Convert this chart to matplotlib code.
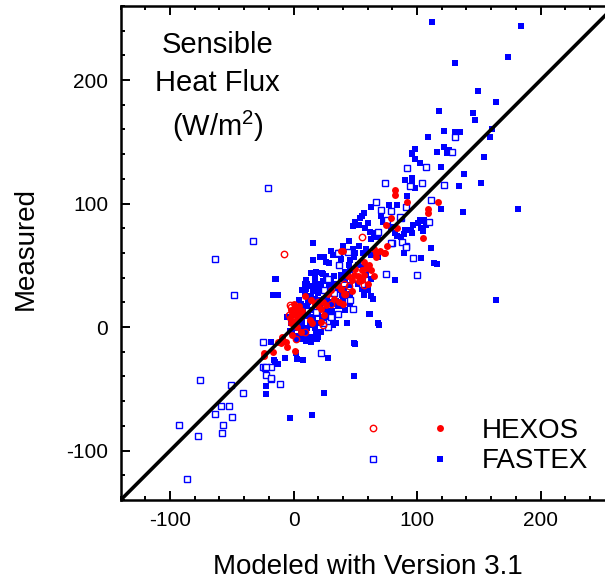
import numpy as np
import matplotlib
matplotlib.use('Agg')
import matplotlib.pyplot as plt
from matplotlib.ticker import MultipleLocator
from matplotlib.legend_handler import HandlerTuple

plt.rcParams['font.family'] = ['Liberation Sans', 'DejaVu Sans']
plt.rcParams['axes.unicode_minus'] = False
plt.rcParams['mathtext.fontset'] = 'custom'
plt.rcParams['mathtext.rm'] = 'Liberation Sans'

# (modeled, measured) pairs, W/m2
fastex_filled = np.array([
    (112, 247), (184, 244), (131, 214), (174, 219), (149, 191), (164, 182), (118, 175), (145, 173),
    (147, 168), (122, 159), (131, 158), (135, 158), (109, 154), (161, 160), (159, 154), (122, 146),
    (126, 143), (124, 141), (116, 142), (98, 144), (96, 141), (96, 140), (98, 136), (102, 133),
    (154, 138), (119, 130), (138, 124), (152, 117), (134, 114), (90, 119), (96, 121), (96, 116),
    (98, 113), (92, 106), (84, 99), (119, 96), (137, 93), (182, 96), (164, 22),
    (111, 64), (89, 60), (103, 56), (114, 52), (116, 51), (82, 38), (66, 76), (68, 73), (65, 73),
    (63, 71), (63, 97), (77, 99), (57, 92), (55, 90), (50, 85), (53, 83), (60, 84), (71, 90),
    (72, 85), (76, 84), (90, 79), (95, 79), (97, 83), (102, 86), (96, 76), (102, 87), (106, 87),
    (101, 84), (107, 83), (103, 80), (105, 78), (89, 75), (79, 81), (82, 76), (84, 74), (87, 73),
    (32, 58), (45, 70), (44, 61), (48, 63), (50, 60), (59, 63), (16, 68), (30, 62), (34, 58),
    (21, 57), (25, 57), (26, 53), (29, 52), (16, 54), (63, 58), (68, 57), (46, 54), (49, 57),
    (57, 49), (61, 46), (59, 42), (63, 39), (52, 50), (45, 50), (46, 46), (42, 45), (64, 23),
    (62, 11), (69, 2), (68, 3), (61, 11), (54, 88), (58, 80), (48, 82), (62, 77), (40, 66),
    (38, 55), (53, 66), (56, 60),
    (-15, 39), (-17, 26), (-13, 26), (-14, 39),
    (14, 44), (17, 41), (23, 44), (9, 35), (13, 33), (7, 30), (17, 34), (22, 35), (28, 38),
    (33, 41), (38, 42), (44, 41), (28, 30), (32, 27), (36, 30), (41, 31), (46, 34), (52, 35),
    (56, 38), (55, 31), (60, 30), (57, 26), (14, 25), (18, 21), (21, 17), (25, 22), (30, 19),
    (34, 21), (38, 17), (42, 14), (46, 19), (5, 6), (7, 2), (11, -1), (15, 2), (19, 3), (23, 6),
    (28, 8), (32, 6), (9, -5), (14, -8), (19, -8), (3, -10), (6, -1), (18, -4),
    (10, 38), (11, 35), (9, 34), (10, 31), (14, 33), (18, 45), (24, 43), (26, 41), (30, 39),
    (17, 38), (21, 35), (24, 37), (29, 34), (33, 35), (36, 33), (38, 39), (42, 38), (9, 27),
    (13, 25), (17, 23), (21, 22), (25, 23), (29, 20), (6, 19), (11, 17), (15, 14), (20, 11),
    (23, 8), (28, 10), (32, 19), (36, 17), (40, 22), (44, 25), (46, 27), (7, 6), (13, 3),
    (17, -1), (6, -2), (5, -9), (10, -10), (14, -12), (20, -8), (-2, 3), (-1, -4), (1, 10),
    (-5, 8), (32, 2), (34, 3), (43, 3), (63, 25),
    (4, 22), (8, 15), (12, 9), (16, 8), (20, 28), (24, 30), (27, 25), (31, 13), (35, 10),
    (39, 26), (3, 2), (0, -1), (-3, -3), (8, 11), (12, 20), (16, 29), (20, 31), (26, 14),
    (-18, -12), (2, -21), (-7, -25), (3, -26), (8, -27), (-16, -27), (-13, -30), (28, -25),
    (50, -14), (49, -40), (49, -13), (22, -4), (17, 0), (6, -9), (10, -11), (14, -11),
    (-22, -48), (-22, -54), (-3, -74), (15, -71), (25, -53), (3, -7), (6, -10), (11, -10),
    (17, -8), (19, -10), (-15, -28),
])

fastex_open = np.array([
    (-25, -12), (22, -21), (36, 11), (48, 15), (28, 0), (-25, -32), (-23, -33), (-18, -32),
    (-18, -42), (-21, 113), (-33, 70), (-64, 55), (-48, 26), (-76, -43), (-51, -47), (-41, -53),
    (-22, -32), (-22, -39), (-18, -41), (-11, -46), (-59, -64), (-52, -64), (-64, -70),
    (-50, -73), (-57, -79), (-93, -79), (-77, -88), (-58, -86), (-86, -123),
    (131, 154), (128, 142), (92, 129), (107, 130), (122, 115), (104, 117), (94, 114), (111, 103),
    (91, 97), (79, 94), (110, 85), (87, 88), (91, 66), (97, 56), (100, 42), (71, 95), (86, 89),
    (80, 68), (88, 69), (91, 65), (37, 60), (75, 43), (74, 117), (67, 101), (76, 87), (68, 77),
    (79, 68), (44, 61), (36, 60), (55, 35), (25, 30), (28, 39), (46, 22), (37, 50), (30, 8),
    (24, 3), (33, 28), (18, 12),
])

hexos_filled = np.array([
    (82, 111), (82, 107), (117, 101), (109, 96), (109, 92), (92, 101), (105, 72), (79, 88),
    (84, 80), (75, 83), (74, 60), (76, 66), (40, 62), (38, 62), (65, 63), (67, 60), (73, 60),
    (67, 57), (61, 50), (65, 41), (59, 48), (63, 46), (53, 37), (44, 41), (47, 38), (49, 42),
    (38, 31), (41, 27), (47, 29), (28, 27), (33, 23), (37, 20), (17, 19), (20, 17), (22, 15),
    (1, 16), (3, 12), (-1, 11), (2, 10), (1, 5), (-2, 3), (3, 0), (6, -4), (13, 6), (15, 3),
    (9, 25), (14, 22), (-9, -9), (-6, -12), (-5, -16), (1, -19), (24, 20), (26, 18), (55, 46),
    (57, 53), (40, 19), (-24, -23), (-13, -12), (-24, -21), (-10, -13), (-1, -6), (-9, -8),
    (-17, -20), (52, 41), (55, 38), (57, 42), (60, 35), (22, 4), (25, 10), (-2, 14), (5, 8),
    (7, 13), (0, 19), (4, 17), (-3, 7), (30, 30), (35, 34), (50, 47), (70, 62),
])

hexos_open = np.array([
    (-8, 59), (55, 73), (-1, 8), (1, 14), (3, 15), (-2, 16), (41, 35), (45, 33), (57, 34),
    (30, 19), (20, 20), (42, 27), (9, -4), (2, -10), (24, 2), (-4, 10), (6, 9), (0, 12),
    (-3, 18),
])

one_to_one = [-140, 260]

fig = plt.figure(figsize=(6.05, 5.82), dpi=100)
ax = fig.add_axes([0.1995, 0.1409, 0.8165, 0.8488])

blue = '#0000ff'
red = '#ff0000'

f1, = ax.plot(fastex_filled[:, 0], fastex_filled[:, 1], 's', color=blue, ms=5.0, mew=0, ls='none')
f2, = ax.plot(fastex_open[:, 0], fastex_open[:, 1], 's', mfc='white', mec=blue, ms=4.4, mew=1.0, ls='none')
h1, = ax.plot(hexos_filled[:, 0], hexos_filled[:, 1], 'o', color=red, ms=5.0, mew=0, ls='none')
h2, = ax.plot(hexos_open[:, 0], hexos_open[:, 1], 'o', mfc='none', mec=red, ms=4.6, mew=1.0, ls='none')

ax.plot(one_to_one, one_to_one, color='black', lw=2.6, zorder=5)

ax.set_xlim(-140, 260)
ax.set_ylim(-140, 260)
ax.xaxis.set_major_locator(MultipleLocator(100))
ax.yaxis.set_major_locator(MultipleLocator(100))
ax.xaxis.set_minor_locator(MultipleLocator(20))
ax.yaxis.set_minor_locator(MultipleLocator(20))
ax.tick_params(which='both', direction='in', top=True, right=True, width=1.4)
ax.tick_params(which='major', length=6.5, labelsize=15)
ax.tick_params(which='minor', length=3)
ax.tick_params(axis='x', pad=8)
ax.tick_params(axis='y', pad=9)
for s in ax.spines.values():
    s.set_linewidth(1.8)

ax.set_xlabel('Modeled with Version 3.1', fontsize=20)
ax.set_ylabel('Measured', fontsize=20)
ax.xaxis.set_label_coords(0.5, -0.136)
ax.xaxis.label.set_va('center')
ax.yaxis.set_label_coords(-0.193, 0.51)
ax.yaxis.label.set_va('center')

ax.text(0.196, 0.835, 'Sensible\nHeat Flux\n(W/m$^2$)', transform=ax.transAxes,
        ha='center', va='center', fontsize=21, linespacing=1.45)

leg = ax.legend([(h2, h1), (f2, f1)], ['HEXOS', 'FASTEX'],
                handler_map={tuple: HandlerTuple(ndivide=None, pad=0)},
                loc='center left', bbox_to_anchor=(0.444, 0.109),
                frameon=False, fontsize=20, handlelength=4.8, handletextpad=0.32,
                borderpad=0, borderaxespad=0, labelspacing=0.15, numpoints=1)

fig.savefig('out.png', dpi=100)
